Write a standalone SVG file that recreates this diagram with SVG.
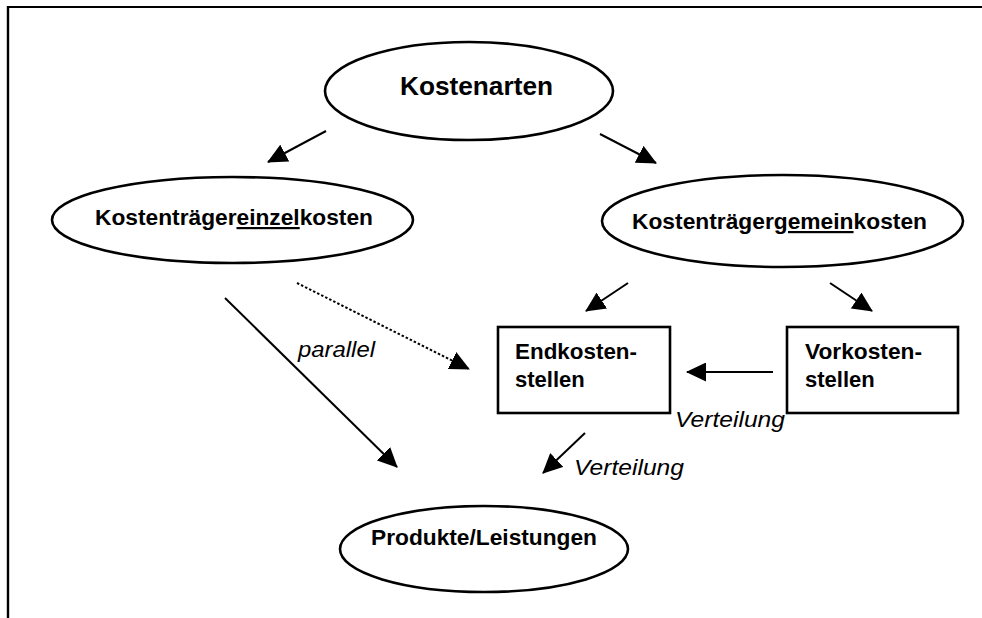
<svg xmlns="http://www.w3.org/2000/svg" width="982" height="618" viewBox="0 0 982 618">
<style>
.node{fill:#fff;stroke:#000;stroke-width:2.6}
.lbl{font-family:"Liberation Sans",Arial,sans-serif;font-weight:bold;font-size:22px;fill:#000}
.it{font-family:"Liberation Sans",Arial,sans-serif;font-style:italic;font-size:22px;fill:#000}
.conn{stroke:#000;stroke-width:2;fill:none;marker-end:url(#ah)}
.u{text-decoration:underline}
</style>
<defs>
<marker id="ah" viewBox="0 0 20 19" refX="19" refY="9.5" markerWidth="20" markerHeight="19" markerUnits="userSpaceOnUse" orient="auto">
<path d="M0,0 L20,9.5 L0,19 z" fill="#000"/>
</marker>
</defs>
<rect width="982" height="618" fill="#fff"/>
<g id="frame" stroke="#000" fill="none">
<line x1="7" y1="7" x2="982" y2="7" stroke-width="2"/>
<line x1="8" y1="6" x2="8" y2="618" stroke-width="2.4"/>
</g>
<g id="connectors">
<line class="conn" x1="326" y1="131" x2="268" y2="162"/>
<line class="conn" x1="600" y1="134" x2="656" y2="163"/>
<line class="conn" x1="628" y1="283" x2="586" y2="311"/>
<line class="conn" x1="830" y1="283" x2="872" y2="311"/>
<line class="conn" x1="773" y1="372" x2="687" y2="372"/>
<line class="conn" x1="585" y1="433" x2="543" y2="473"/>
<line class="conn" x1="225" y1="298" x2="397" y2="467"/>
<line class="conn" x1="297" y1="283" x2="469" y2="369" stroke-dasharray="2.5 2" stroke-width="3"/>
<text class="it" x="298" y="357" textLength="77" lengthAdjust="spacingAndGlyphs">parallel</text>
<text class="it" x="675" y="427" textLength="110" lengthAdjust="spacingAndGlyphs">Verteilung</text>
<text class="it" x="574" y="475" textLength="110" lengthAdjust="spacingAndGlyphs">Verteilung</text>
</g>
<g id="kostenarten">
<ellipse class="node" cx="469" cy="91" rx="144" ry="49"/>
<text class="lbl" x="400" y="95" style="font-size:26px" textLength="153" lengthAdjust="spacingAndGlyphs">Kostenarten</text>
</g>
<g id="einzelkosten">
<ellipse class="node" cx="232.5" cy="220" rx="180.5" ry="43"/>
<text class="lbl" x="95" y="225" textLength="278" lengthAdjust="spacingAndGlyphs">Kostenträger<tspan class="u">einzel</tspan>kosten</text>
</g>
<g id="gemeinkosten">
<ellipse class="node" cx="782.5" cy="221" rx="180.5" ry="46"/>
<text class="lbl" x="632" y="229" textLength="295" lengthAdjust="spacingAndGlyphs">Kostenträger<tspan class="u">gemein</tspan>kosten</text>
</g>
<g id="endkostenstellen">
<rect class="node" x="498" y="327" width="172" height="86"/>
<text class="lbl" x="515" y="359" textLength="122" lengthAdjust="spacingAndGlyphs">Endkosten-</text>
<text class="lbl" x="515" y="387">stellen</text>
</g>
<g id="vorkostenstellen">
<rect class="node" x="787" y="327" width="171" height="86"/>
<text class="lbl" x="805" y="359" textLength="117" lengthAdjust="spacingAndGlyphs">Vorkosten-</text>
<text class="lbl" x="805" y="387">stellen</text>
</g>
<g id="produkte">
<ellipse class="node" cx="484" cy="549" rx="144" ry="43"/>
<text class="lbl" x="484" y="545" text-anchor="middle" textLength="226" lengthAdjust="spacingAndGlyphs">Produkte/Leistungen</text>
</g>
</svg>
